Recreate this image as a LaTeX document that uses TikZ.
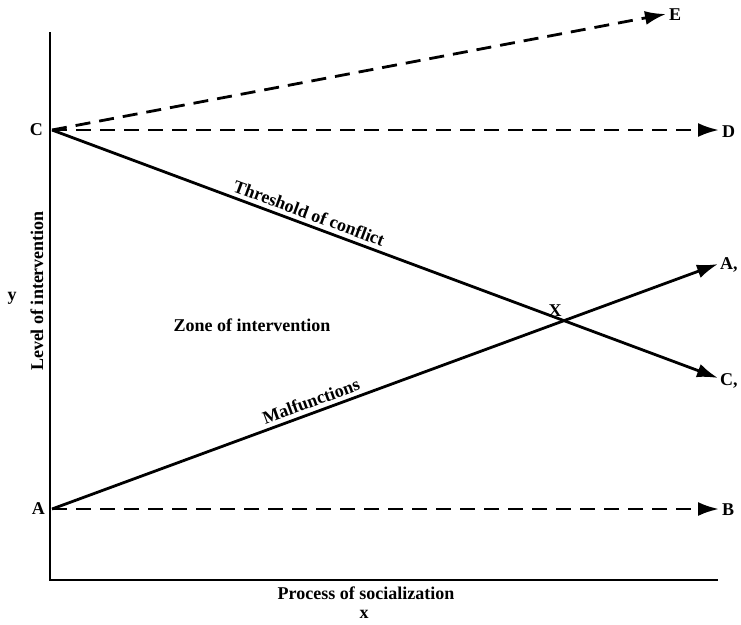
\documentclass[tikz,border=0pt]{standalone}
\usepackage{fontspec}
\setmainfont{Liberation Serif}
\usetikzlibrary{arrows.meta}
\begin{document}
\begin{tikzpicture}[x=1pt,y=-1pt,
  lbl/.style={font=\bfseries\fontsize{18}{20}\selectfont, inner sep=1pt},
  axis/.style={line width=2.6pt},
  solidarrow/.style={line width=2.8pt,-{Latex[length=21pt,width=14pt]}},
  dasharrow/.style={line width=2.8pt,dash pattern=on 15pt off 9pt,-{Latex[length=21pt,width=14pt]}}]
\useasboundingbox (0,0) rectangle (741,624);
% axes
\coordinate (ytop) at (50,32);
\coordinate (orig) at (50,580);
\coordinate (xend) at (718,580);
\draw[axis] (ytop) -- (orig) -- (xend);
% points
\coordinate (C) at (52,130);
\coordinate (A) at (52,509);
\coordinate (Et) at (666,14);
\coordinate (Dt) at (719,130);
\coordinate (A1t) at (718,264);
\coordinate (C1t) at (718,378);
\coordinate (Bt) at (719,509);
% labels
\node[lbl,anchor=east] (Cl) at (44,130) {C};
\node[lbl,anchor=east] (Al) at (46,509) {A};
\node[lbl,anchor=west] (El) at (668,15) {E};
\node[lbl,anchor=west] (Dl) at (721,132) {D};
\node[lbl,anchor=west] (A1l) at (719,265) {A,};
\node[lbl,anchor=west] (C1l) at (719,381) {C,};
\node[lbl,anchor=west] (Bl) at (721,510) {B};
% lines
\draw[dasharrow] (C) -- (Et);
\draw[dasharrow] (C) -- (Dt);
\draw[solidarrow] (C) -- (C1t) node[pos=0.38,sloped,above,lbl,inner sep=4pt] (thr) {Threshold of conflict};
\draw[solidarrow] (A) -- (A1t) node[pos=0.395,sloped,above,lbl,inner sep=4pt] (mal) {Malfunctions};
\draw[dasharrow] (A) -- (Bt);
% other texts
\node[lbl] (X) at (555,311) {X};
\node[lbl] (zone) at (252,325) {Zone of intervention};
\node[lbl,rotate=90] (lev) at (37,291) {Level of intervention};
\node[lbl] (y) at (12,298) {y};
\node[lbl] (proc) at (366,593) {Process of socialization};
\node[lbl] (x) at (364,614) {x};
\end{tikzpicture}
\end{document}
